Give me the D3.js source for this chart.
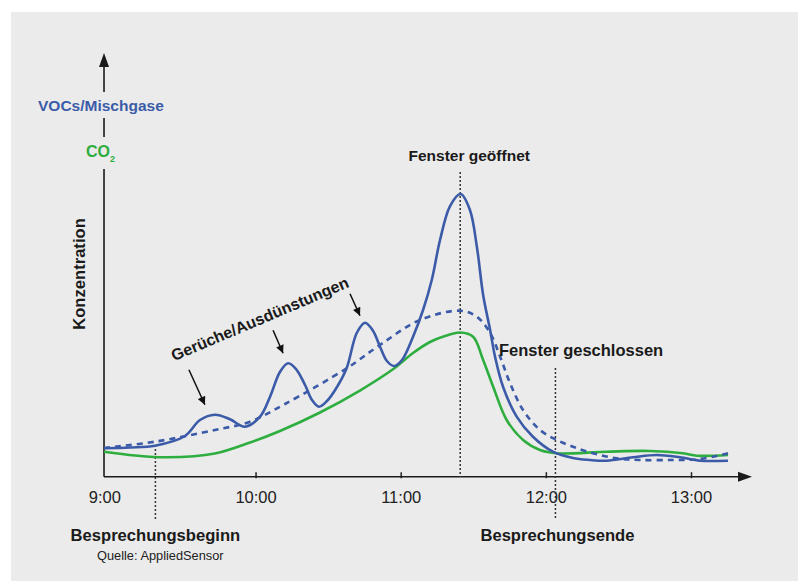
<!DOCTYPE html>
<meta charset="utf-8">
<style>
    body { margin: 0; background: #fff; }
    text { font-family: "Liberation Sans", Arial, sans-serif; }
    .lbl { font-weight: bold; fill: #1a1a1a; }
</style>
<body>
<script src="https://cdnjs.cloudflare.com/ajax/libs/d3/7.8.5/d3.min.js"></script>
<script>

    // time axis
    var tickHours = [9, 10, 11, 12, 13];
    var tickLabels = ["9:00", "10:00", "11:00", "12:00", "13:00"];

    // VOCs / Mischgase, solid line
    var vocsHours = [8.956, 9.135, 9.307, 9.514, 9.617, 9.72, 9.824, 9.927, 10.031, 10.1, 10.168, 10.224, 10.279, 10.341, 10.389, 10.437, 10.492, 10.561, 10.628, 10.697, 10.754, 10.809, 10.857, 10.905, 10.954, 11.009, 11.085, 11.154, 11.214, 11.271, 11.34, 11.413, 11.477, 11.526, 11.568, 11.616, 11.65, 11.705, 11.799, 11.911, 12.049, 12.187, 12.304, 12.419, 12.6, 12.764, 12.924, 13.062, 13.255];
    var vocsLevel = [6.76, 6.95, 7.38, 9.69, 13.5, 14.76, 13.67, 11.9, 14.29, 19.05, 24.93, 27.0, 25.64, 21.83, 18.26, 16.67, 18.02, 21.36, 25.88, 34.21, 36.67, 34.76, 31.0, 27.55, 26.36, 27.79, 33.33, 39.69, 46.83, 56.36, 64.45, 67.31, 63.5, 54.45, 43.26, 34.93, 28.57, 21.43, 14.29, 9.52, 5.95, 4.45, 3.98, 3.81, 4.62, 5.17, 4.62, 3.81, 3.81];

    // VOCs trend, dashed line
    var trendHours = [8.956, 9.307, 9.72, 9.962, 10.203, 10.628, 10.857, 11.133, 11.409, 11.524, 11.616, 11.685, 11.753, 11.843, 11.96, 12.075, 12.187, 12.325, 12.488, 12.649, 12.876, 13.041, 13.177, 13.255];
    var trendLevel = [6.83, 8.33, 11.12, 13.1, 17.31, 25.81, 31.36, 37.31, 39.52, 38.1, 34.21, 28.57, 22.31, 15.88, 11.12, 8.74, 7.14, 5.57, 4.38, 3.98, 3.98, 4.14, 4.93, 5.57];

    // CO2
    var co2Hours = [8.956, 9.17, 9.39, 9.72, 9.962, 10.168, 10.437, 10.719, 10.954, 11.085, 11.202, 11.305, 11.409, 11.499, 11.568, 11.637, 11.73, 11.843, 11.96, 12.075, 12.419, 12.715, 12.945, 13.041, 13.255];
    var co2Level = [5.95, 5.05, 4.62, 5.52, 8.14, 10.88, 15.17, 20.52, 25.76, 29.45, 32.07, 33.5, 34.33, 33.33, 27.79, 21.43, 13.5, 8.74, 6.36, 5.57, 5.95, 6.12, 5.57, 5.0, 5.17];

    // events (dotted lines)
    var eventHours = [9.31, 11.41, 12.066];
    var eventLabels = ["Besprechungsbeginn", "Fenster geöffnet", "Besprechungsende"];

    // odour peaks the arrows point at
    var peakHours = [9.72, 10.224, 10.754];
    var peakLevel = [14.76, 27.0, 36.67];

    var width = 798;
    var height = 581;

    var BLUE = "#3b5ba8";
    var GREEN = "#2eae3f";

    var svg = d3.select("body").append("svg")
        .attr("width", width)
        .attr("height", height);

    svg.append("rect")
        .attr("x", 11).attr("y", 12)
        .attr("width", width - 11).attr("height", height - 12)
        .attr("fill", "#ebebeb");

    var x = d3.scaleLinear().domain([9, 13]).range([110.4, 691]);
    var y = d3.scaleLinear().domain([0, 100]).range([476.7, 56.7]);

    var x0 = x(8.956);
    var y0 = y(0);

    /////////////////////////////////
    // AXES
    /////////////////////////////////

    var xAxis = d3.axisBottom(x)
        .tickValues(tickHours)
        .tickFormat(function (d, i) { return tickLabels[i]; })
        .tickSize(-6)
        .tickPadding(13);

    var gx = svg.append("g")
        .attr("transform", "translate(0," + (y0 + 1.5) + ")")
        .call(xAxis);
    gx.select(".domain").remove();
    gx.selectAll(".tick line").attr("stroke", "#222").attr("stroke-width", 1.5)
        .filter(function (d) { return d === 9; }).remove();
    gx.selectAll(".tick text")
        .attr("font-size", 16.5)
        .attr("fill", "#222")
        .attr("dx", function (d) { return d === 9 ? -6 : 0; });

    var axisColor = "#1a1a1a";

    // x axis line + arrow
    svg.append("line")
        .attr("x1", x0).attr("x2", 740)
        .attr("y1", y0).attr("y2", y0)
        .attr("stroke", axisColor).attr("stroke-width", 1.6);
    svg.append("path")
        .attr("d", "M752," + y0 + "L738," + (y0 - 5) + "L738," + (y0 + 5) + "Z")
        .attr("fill", axisColor);

    // y axis line, broken where the series names sit
    var ySegments = [[62, 92], [118, 137], [169, y0]];
    svg.selectAll("line.yaxis")
        .data(ySegments)
        .enter()
        .append("line")
        .attr("class", "yaxis")
        .attr("x1", x0).attr("x2", x0)
        .attr("y1", function (d) { return d[0]; })
        .attr("y2", function (d) { return d[1]; })
        .attr("stroke", axisColor).attr("stroke-width", 1.6);
    svg.append("path")
        .attr("d", "M" + x0 + ",53L" + (x0 - 5) + ",67L" + (x0 + 5) + ",67Z")
        .attr("fill", axisColor);

    /////////////////////////////////
    // EVENT LINES
    /////////////////////////////////

    var eventTop = [445, 172, 368];
    var eventBottom = [520, y0, 520];

    svg.selectAll("line.event")
        .data(eventHours)
        .enter()
        .append("line")
        .attr("class", "event")
        .attr("x1", function (d) { return x(d); })
        .attr("x2", function (d) { return x(d); })
        .attr("y1", function (d, i) { return eventTop[i]; })
        .attr("y2", function (d, i) { return eventBottom[i]; })
        .attr("stroke", "#333")
        .attr("stroke-width", 1.5)
        .attr("stroke-dasharray", "2,2");

    /////////////////////////////////
    // SERIES
    /////////////////////////////////

    var line = d3.line()
        .x(function (d) { return x(d[0]); })
        .y(function (d) { return y(d[1]); })
        .curve(d3.curveCatmullRom.alpha(0.5));

    function pairs(hours, level) {
        return hours.map(function (h, i) { return [h, level[i]]; });
    }

    svg.append("path")
        .datum(pairs(co2Hours, co2Level))
        .attr("d", line)
        .attr("fill", "none")
        .attr("stroke", GREEN)
        .attr("stroke-width", 2.6);

    svg.append("path")
        .datum(pairs(trendHours, trendLevel))
        .attr("d", line)
        .attr("fill", "none")
        .attr("stroke", BLUE)
        .attr("stroke-width", 2.6)
        .attr("stroke-dasharray", "6,5");

    svg.append("path")
        .datum(pairs(vocsHours, vocsLevel))
        .attr("d", line)
        .attr("fill", "none")
        .attr("stroke", BLUE)
        .attr("stroke-width", 2.6);

    /////////////////////////////////
    // ANNOTATIONS
    /////////////////////////////////

    svg.append("defs").append("marker")
        .attr("id", "head")
        .attr("viewBox", "0 0 10 10")
        .attr("refX", 10).attr("refY", 5)
        .attr("markerWidth", 10).attr("markerHeight", 8)
        .attr("markerUnits", "userSpaceOnUse")
        .attr("orient", "auto")
        .append("path")
        .attr("d", "M0,0L10,5L0,10Z")
        .attr("fill", "#111");

    var arrowTip = [[-10, -10], [-5, -10], [-5, -7]];
    var arrowTail = [[-26, -45], [-15, -33], [-15, -29]];

    svg.selectAll("line.arrow")
        .data(peakHours)
        .enter()
        .append("line")
        .attr("class", "arrow")
        .attr("x1", function (d, i) { return x(d) + arrowTail[i][0]; })
        .attr("y1", function (d, i) { return y(peakLevel[i]) + arrowTail[i][1]; })
        .attr("x2", function (d, i) { return x(d) + arrowTip[i][0]; })
        .attr("y2", function (d, i) { return y(peakLevel[i]) + arrowTip[i][1]; })
        .attr("stroke", "#111")
        .attr("stroke-width", 1.5)
        .attr("marker-end", "url(#head)");

    svg.append("text")
        .attr("class", "lbl")
        .attr("transform", "translate(262,324) rotate(-23)")
        .attr("text-anchor", "middle")
        .attr("font-size", 16)
        .text("Gerüche/Ausdünstungen");

    svg.append("text")
        .attr("class", "lbl")
        .attr("x", x(eventHours[1]) + 9).attr("y", 161)
        .attr("text-anchor", "middle")
        .attr("font-size", 15.5)
        .text(eventLabels[1]);

    svg.append("text")
        .attr("class", "lbl")
        .attr("x", 499).attr("y", 356)
        .attr("font-size", 16.5)
        .text("Fenster geschlossen");

    svg.append("text")
        .attr("class", "lbl")
        .attr("x", x(eventHours[0])).attr("y", 541)
        .attr("text-anchor", "middle")
        .attr("font-size", 16.6)
        .text(eventLabels[0]);

    svg.append("text")
        .attr("class", "lbl")
        .attr("x", x(eventHours[2]) + 2).attr("y", 541)
        .attr("text-anchor", "middle")
        .attr("font-size", 16.6)
        .text(eventLabels[2]);

    svg.append("text")
        .attr("x", 97).attr("y", 560)
        .attr("font-size", 12.8)
        .attr("fill", "#222")
        .text("Quelle: AppliedSensor");

    svg.append("text")
        .attr("class", "lbl")
        .attr("transform", "translate(85,274) rotate(-90)")
        .attr("text-anchor", "middle")
        .attr("font-size", 16.6)
        .text("Konzentration");

    svg.append("text")
        .attr("x", 38).attr("y", 111)
        .attr("font-size", 15.5)
        .attr("font-weight", "bold")
        .attr("fill", BLUE)
        .text("VOCs/Mischgase");

    var co2 = svg.append("text")
        .attr("x", 86).attr("y", 157)
        .attr("font-size", 16)
        .attr("font-weight", "bold")
        .attr("fill", GREEN);
    co2.append("tspan").text("CO");
    co2.append("tspan").attr("font-size", 9).attr("dy", 5).text("2");

</script>
</body>
